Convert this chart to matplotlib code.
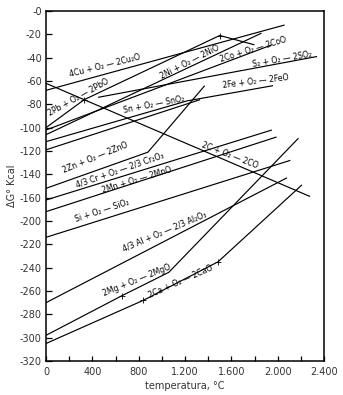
import matplotlib
matplotlib.use("Agg")
import matplotlib.pyplot as plt

# ---- data (temperature in deg C, dG in kcal on the plotted scale) ----
# Printed y scale skips "-180": labels below -160 read 20 lower than the position.
ytick_pos = [0, -20, -40, -60, -80, -100, -120, -140, -160, -180, -200, -220, -240, -260, -280, -300]
ytick_labels = ["-0", "-20", "-40", "-60", "-80", "-100", "-120", "-140", "-160",
                "-200", "-220", "-240", "-260", "-280", "-300", "-320"]
xtick_pos = [0, 400, 800, 1200, 1600, 2000, 2400]
xtick_labels = ["0", "400", "800", "1.200", "1.600", "2.000", "2.400"]

cu_T = [0, 2060];            cu_G = [-68, -12]
c_T = [0, 2280];             c_G = [-62, -159]
pb_T = [0, 330, 1500, 1800]; pb_G = [-100, -76, -21, -29]
ni_T = [0, 1860];            ni_G = [-106, -19]
co_T = [0, 1950];            co_G = [-102, -29]
s2_T = [450, 2340];          s2_G = [-74, -39]
fe_T = [0, 1220, 1960];      fe_G = [-112, -77, -64]
sn_T = [0, 1330];            sn_G = [-119, -76]
zn_T = [0, 880, 1370];       zn_G = [-152, -121, -64]
cr_T = [0, 1950];            cr_G = [-162, -102]
mn_T = [0, 1990];            mn_G = [-172, -108]
si_T = [0, 2110];            si_G = [-194, -128]
al_T = [0, 2080];            al_G = [-250, -143]
mg_T = [0, 656, 1060, 2180]; mg_G = [-278, -244, -224, -109]
ca_T = [0, 840, 1485, 2210]; ca_G = [-285, -248, -215, -149]

lines = [(cu_T, cu_G), (c_T, c_G), (pb_T, pb_G), (ni_T, ni_G), (co_T, co_G),
         (s2_T, s2_G), (fe_T, fe_G), (sn_T, sn_G), (zn_T, zn_G), (cr_T, cr_G),
         (mn_T, mn_G), (si_T, si_G), (al_T, al_G), (mg_T, mg_G), (ca_T, ca_G)]

# transition marks (melting / boiling)
mark_T = [330, 1500, 656, 840, 1485]
mark_G = [-76, -21, -244, -248, -215]

labels = ["4Cu + O\u2082 \u2014 2Cu\u2082O", "2C + O\u2082 \u2014 2CO", "2Pb + O\u2082 \u2014 2PbO",
          "2Ni + O\u2082 \u2014 2NiO", "2Co + O\u2082 \u2014 2CoO", "S\u2082 + O\u2082 \u2014 2SO\u2082",
          "2Fe + O\u2082 \u2014 2FeO", "Sn + O\u2082 \u2014 SnO\u2082", "2Zn + O\u2082 \u2014 2ZnO",
          "4/3 Cr + O\u2082 \u2014 2/3 Cr\u2082O\u2083", "2Mn + O\u2082 \u2014 2MnO",
          "Si + O\u2082 \u2014 SiO\u2082", "4/3 Al + O\u2082 \u2014 2/3 Al\u2082O\u2083",
          "2Mg + O\u2082 \u2014 2MgO", "2Ca + O\u2082 \u2014 2CaO"]
label_T = [509, 1589, 285, 1243, 1787, 2038, 1813, 932, 423, 639, 786, 483, 1019, 780, 1160]
label_G = [-47, -124, -74, -44, -33, -41, -60, -80, -126, -136, -145, -171, -189, -231, -232]
label_rot = [14, -21, 29, 27, 17, 10, 7, 11, 22, 19, 17, 18, 23, 22, 24]

# ---- figure ----
fig = plt.figure(figsize=(3.43, 3.95), dpi=100)
ax = fig.add_axes([46/343, 1-361/395, (324-46)/343, (361-11)/395])

for T, G in lines:
    ax.plot(T, G, color="black", lw=0.85, solid_capstyle="butt")
ax.plot(mark_T, mark_G, ls="none", marker="+", ms=4, mew=0.6, color="black")

for s, t, g, r in zip(labels, label_T, label_G, label_rot):
    ax.text(t, g, s, rotation=r, rotation_mode="anchor", ha="center", va="center",
            fontsize=5.6, color="black", family="DejaVu Sans")

ax.set_xlim(0, 2400)
ax.set_ylim(-300, 0)
ax.set_xticks(xtick_pos)
ax.set_xticklabels(xtick_labels)
ax.set_xticks(range(200, 2400, 400), minor=True)
ax.set_yticks(ytick_pos)
ax.set_yticklabels(ytick_labels)
ax.tick_params(axis="x", which="both", direction="in", length=3.5, width=0.9, labelsize=7,
               labelcolor="#333333", pad=4)
ax.tick_params(axis="y", direction="in", length=4.5, width=0.9, labelsize=7,
               labelcolor="#333333", pad=3)
for sp in ax.spines.values():
    sp.set_linewidth(1.1)

ax.set_xlabel("temperatura, \u00b0C", fontsize=7, color="#333333", labelpad=3)
ax.set_ylabel("\u0394G\u00b0 Kcal", fontsize=7, color="#333333", labelpad=2)

fig.savefig("out.png", dpi=100)
